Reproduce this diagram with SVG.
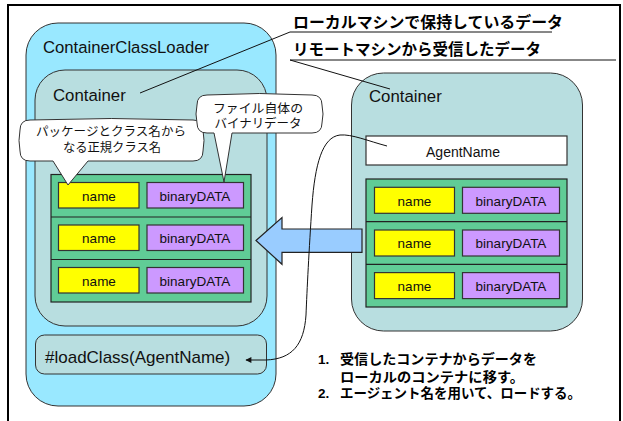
<svg xmlns="http://www.w3.org/2000/svg" width="623" height="421" viewBox="0 0 623 421">
  <defs>
    <style>
      .lat { font-family: "Liberation Sans", Arial, sans-serif; fill: #111; }
      .jp { font-family: "Noto Sans CJK JP", "Liberation Sans", sans-serif; fill: #111; }
      .jpb { font-family: "Noto Sans CJK JP", "Liberation Sans", sans-serif; font-weight: bold; fill: #000; }
      .numb { font-family: "Liberation Sans", Arial, sans-serif; font-weight: bold; fill: #000; }
      .loader { fill: #99E8FF; stroke: #333; stroke-width: 1; }
      .cont { fill: #B8DEE0; stroke: #333; stroke-width: 1; }
      .table { fill: #60CC96; stroke: #222; stroke-width: 1.2; }
      .row { stroke: #222; stroke-width: 1.2; }
      .name { fill: #FFFF00; stroke: #333; stroke-width: 1.2; }
      .bin { fill: #CC99FF; stroke: #333; stroke-width: 1.2; }
      .bubble { fill: #fff; stroke: #333; stroke-width: 1; }
      .line { fill: none; stroke: #111; stroke-width: 1; }
      .cell { font-size: 13.5px; text-anchor: middle; }
    </style>
    <marker id="arrowhead" viewBox="0 0 10 10" refX="9" refY="5" markerWidth="8" markerHeight="6" orient="auto" markerUnits="userSpaceOnUse">
      <path d="M0,0 L10,5 L0,10 Z" fill="#111"/>
    </marker>
  </defs>

  <!-- page -->
  <rect x="0" y="0" width="623" height="421" fill="#fff"/>
  <rect x="8" y="5" width="612" height="440" fill="none" stroke="#000" stroke-width="2"/>

  <!-- class loader with its local container -->
  <g id="loader">
    <rect class="loader" x="26" y="23" width="250" height="383" rx="32"/>
    <text class="lat" x="43" y="53" font-size="16.7">ContainerClassLoader</text>
  </g>

  <g id="local-container">
    <rect class="cont" x="35" y="70" width="232" height="256" rx="30"/>
    <text class="lat" x="53" y="101" font-size="16.8">Container</text>
    <rect class="table" x="51" y="174.5" width="200" height="127.5"/>
    <line class="row" x1="51" y1="217" x2="251" y2="217"/>
    <line class="row" x1="51" y1="259.5" x2="251" y2="259.5"/>
    <rect class="name" x="58.5" y="182.5" width="80.5" height="25.5"/>
    <rect class="bin" x="147" y="182.5" width="96.5" height="25.5"/>
    <rect class="name" x="58.5" y="225" width="80.5" height="25.5"/>
    <rect class="bin" x="147" y="225" width="96.5" height="25.5"/>
    <rect class="name" x="58.5" y="267.5" width="80.5" height="25.5"/>
    <rect class="bin" x="147" y="267.5" width="96.5" height="25.5"/>
    <text class="lat cell" x="99" y="200.5">name</text>
    <text class="lat cell" x="195" y="200.5">binaryDATA</text>
    <text class="lat cell" x="99" y="243">name</text>
    <text class="lat cell" x="195" y="243">binaryDATA</text>
    <text class="lat cell" x="99" y="285.5">name</text>
    <text class="lat cell" x="195" y="285.5">binaryDATA</text>
  </g>

  <g id="load-class">
    <rect class="cont" x="35.5" y="335" width="231" height="39" rx="9"/>
    <text class="lat" x="45" y="362.5" font-size="17">#loadClass(AgentName)</text>
  </g>

  <!-- remote container -->
  <g id="remote-container">
    <rect class="cont" x="351.5" y="73" width="231" height="258" rx="32"/>
    <text class="lat" x="369" y="102" font-size="16.8">Container</text>
    <rect x="366" y="136" width="201" height="29" fill="#fff" stroke="#333" stroke-width="1.2"/>
    <text class="lat" x="463" y="156.5" font-size="14" text-anchor="middle">AgentName</text>
    <rect class="table" x="366" y="179" width="201" height="128"/>
    <line class="row" x1="366" y1="221.7" x2="567" y2="221.7"/>
    <line class="row" x1="366" y1="264.3" x2="567" y2="264.3"/>
    <rect class="name" x="374.5" y="187.3" width="80" height="26"/>
    <rect class="bin" x="462.5" y="187.3" width="97" height="26"/>
    <rect class="name" x="374.5" y="230" width="80" height="26"/>
    <rect class="bin" x="462.5" y="230" width="97" height="26"/>
    <rect class="name" x="374.5" y="272.6" width="80" height="26"/>
    <rect class="bin" x="462.5" y="272.6" width="97" height="26"/>
    <text class="lat cell" x="414.5" y="205.5">name</text>
    <text class="lat cell" x="511" y="205.5">binaryDATA</text>
    <text class="lat cell" x="414.5" y="248">name</text>
    <text class="lat cell" x="511" y="248">binaryDATA</text>
    <text class="lat cell" x="414.5" y="290.6">name</text>
    <text class="lat cell" x="511" y="290.6">binaryDATA</text>
  </g>

  <!-- callouts -->
  <g id="callout-name">
    <path class="bubble" d="M30,120 Q111,117 193,120 Q203,120 203,130 Q205,140.5 203,151 Q203,161 193,161 L88,161 L68,185 L53,161 L30,161 Q20,161 20,151 Q18,140.5 20,130 Q20,120 30,120 Z"/>
    <text class="jp" x="111" y="136" font-size="12.3" textLength="150" lengthAdjust="spacingAndGlyphs" text-anchor="middle">パッケージとクラス名から</text>
    <text class="jp" x="112" y="152" font-size="12.3" textLength="98" lengthAdjust="spacingAndGlyphs" text-anchor="middle">なる正規クラス名</text>
  </g>

  <g id="callout-binary">
    <path class="bubble" d="M207,95 Q259,92 312,95 Q322,95 322,105 Q324,114 322,123 Q322,133 312,133 L232,133 L224,182 L214,133 L207,133 Q197,133 197,123 Q195,114 197,105 Q197,95 207,95 Z"/>
    <text class="jp" x="258" y="113" font-size="12.5" textLength="90" lengthAdjust="spacingAndGlyphs" text-anchor="middle">ファイル自体の</text>
    <text class="jp" x="258" y="128" font-size="12.5" textLength="87" lengthAdjust="spacingAndGlyphs" text-anchor="middle">バイナリデータ</text>
  </g>

  <!-- legend labels -->
  <g id="label-local">
    <text class="jpb" x="293" y="28" font-size="15.5" textLength="270" lengthAdjust="spacingAndGlyphs">ローカルマシンで保持しているデータ</text>
  </g>
  <g id="label-remote">
    <text class="jpb" x="293" y="55" font-size="15.5" textLength="248" lengthAdjust="spacingAndGlyphs">リモートマシンから受信したデータ</text>
  </g>

  <!-- steps -->
  <g id="steps">
    <text class="numb" x="318" y="364" font-size="13.5">1.</text>
    <text class="jpb" x="340" y="364" font-size="13.5" textLength="197" lengthAdjust="spacingAndGlyphs">受信したコンテナからデータを</text>
    <text class="jpb" x="340" y="382" font-size="13.5" textLength="184" lengthAdjust="spacingAndGlyphs">ローカルのコンテナに移す。</text>
    <text class="numb" x="318" y="398" font-size="13.5">2.</text>
    <text class="jpb" x="340" y="398" font-size="13.5" textLength="241" lengthAdjust="spacingAndGlyphs">エージェント名を用いて、ロードする。</text>
  </g>

  <!-- connectors -->
  <g id="connectors">
    <polygon points="256,240.5 282,217.5 282,229 362,229 362,252.3 282,252.3 282,264.3" fill="#99CCFF" stroke="#222" stroke-width="1.2"/>
    <polyline class="line" points="140,93 290,32 552,32"/>
    <polyline class="line" points="390,89 290,60 616,60"/>
    <path class="line" d="M387,146 C368,141 352,134 340,135 C322,137 315,165 312,205 C309,250 307,290 306,315 C304,345 292,359 266,360 L246,360" marker-end="url(#arrowhead)"/>
  </g>
</svg>
